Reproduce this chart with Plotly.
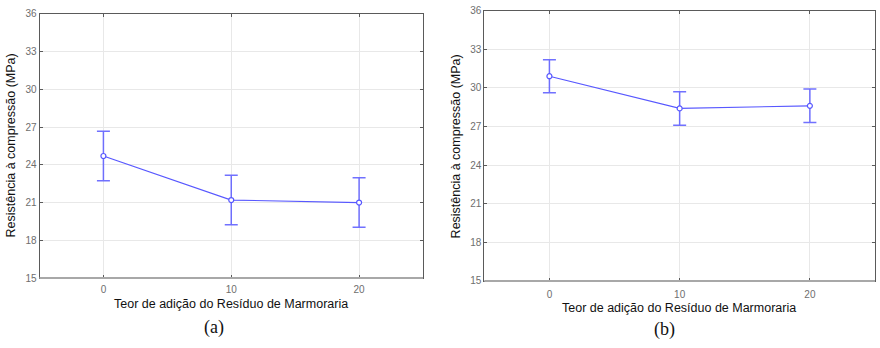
import plotly.graph_objects as go

teor = [0, 10, 20]
res_a = [24.7, 21.2, 21.0]
err_a = [1.96, 1.96, 1.97]
res_b = [30.9, 28.4, 28.6]
err_b = [1.28, 1.3, 1.3]
yticks = [15, 18, 21, 24, 27, 30, 33, 36]
xticks = [0, 10, 20]
xlabel = "Teor de adição do Resíduo de Marmoraria"
ylabel = "Resistência à compressão (MPa)"
captions = ["(a)", "(b)"]

W, H = 880, 348
BLUE = "rgb(88,88,255)"
ERRC = "rgba(88,88,255,0.85)"

fig = go.Figure()

def add_series(xs, ys, es, xa, ya):
    fig.add_trace(go.Scatter(
        x=xs, y=ys, xaxis=xa, yaxis=ya, mode="lines+markers",
        line=dict(color=BLUE, width=1.2),
        marker=dict(symbol="circle", size=5, color="white",
                    line=dict(color=BLUE, width=1.2)),
        error_y=dict(type="data", array=es, visible=True, color=ERRC,
                     thickness=1.5, width=6.5),
        showlegend=False, hoverinfo="x+y"))

add_series(teor, res_a, err_a, "x", "y")
add_series(teor, res_b, err_b, "x2", "y2")

# panel boxes in pixels: (left, right, top, bottom)
boxes = [(39.5, 423, 9, 282), (484.3, 875, 5.7, 285)]
xstand = [2, 4]

def px2dom(b):
    l, r, t, bt = b
    return [l / W, r / W], [1 - bt / H, 1 - t / H]

tickfont = dict(family="Liberation Sans, Arial, sans-serif", size=10, color="#6e6e6e")
axcommon = dict(showgrid=True, gridcolor="#e8e8e8", gridwidth=1, zeroline=False,
                showline=True, linecolor="#5a5a5a", linewidth=1, mirror="ticks",
                ticks="inside", ticklen=3, tickcolor="#5a5a5a", tickfont=tickfont)

layout = dict(width=W, height=H, margin=dict(l=0, r=0, t=0, b=0),
              paper_bgcolor="white", plot_bgcolor="white")

for i, b in enumerate(boxes):
    xd, yd = px2dom(b)
    sx = "" if i == 0 else "2"
    layout["xaxis" + sx] = dict(domain=xd, range=[-5, 25], tickvals=xticks,
                                anchor="y" + sx, ticklabelstandoff=xstand[i], **axcommon)
    layout["yaxis" + sx] = dict(domain=yd, range=[15, 36], tickvals=yticks,
                                anchor="x" + sx, **axcommon)

fig.update_layout(**layout)

titlefont = dict(family="Liberation Sans, Arial, sans-serif", size=12.5, color="#111")
capfont = dict(family="Liberation Serif, Times New Roman, serif", size=18, color="#111")

ann_pos = [
    # xtitle (x,y), ytitle (x,y), caption (x,y)
    ((230.7, 309), (11, 145), (214, 333)),
    ((679, 313), (456, 146), (664, 335)),
]
for i, ((xtx, xty), (ytx, yty), (cx, cy)) in enumerate(ann_pos):
    fig.add_annotation(x=xtx / W, y=1 - xty / H, xref="paper", yref="paper",
                       text=xlabel, showarrow=False, font=titlefont,
                       xanchor="center", yanchor="middle")
    fig.add_annotation(x=ytx / W, y=1 - yty / H, xref="paper", yref="paper",
                       text=ylabel, showarrow=False, font=titlefont, textangle=-90,
                       xanchor="center", yanchor="middle")
    fig.add_annotation(x=cx / W, y=1 - cy / H, xref="paper", yref="paper",
                       text=captions[i], showarrow=False, font=capfont,
                       xanchor="center", yanchor="middle")
    sx = "" if i == 0 else "2"
    fig.add_shape(type="line", xref=("x" + sx) + " domain", yref=("y" + sx) + " domain",
                  x0=0, x1=1, y0=0, y1=0, line=dict(color="#a8a8a8", width=2),
                  layer="above")

fig.write_html("out.html")
